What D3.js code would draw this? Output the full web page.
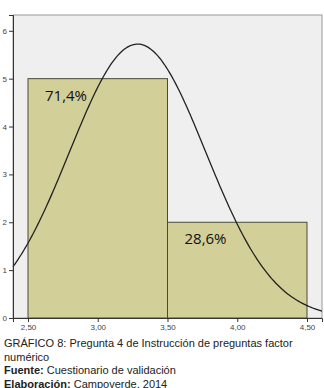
<!DOCTYPE html>
<html>
<head>
<meta charset="utf-8">
<script src="https://cdn.jsdelivr.net/npm/d3@7"></script>
<style>
  body { margin: 0; background: #fff; }
  .cap { font-family: "Liberation Sans", Arial, sans-serif; font-size: 11px; fill: #222; }
</style>
</head>
<body>
<svg id="chart" width="324" height="388"></svg>
<script>
// histogram bins and counts
const binStarts = [2.5, 3.5];
const binEnds = [3.5, 4.5];
const counts = [5, 2];
const pctLabels = ["71,4%", "28,6%"];
const xTicks = [2.5, 3.0, 3.5, 4.0, 4.5];
const yTicks = [0, 1, 2, 3, 4, 5, 6];
// normal curve parameters (from the responses)
const curveMean = 3.2857;
const curveSd = 0.488;
const curveN = 7;
const captionLines = [
  ["", "GRÁFICO 8: Pregunta 4 de Instrucción de preguntas factor"],
  ["", "numérico"],
  ["Fuente:", " Cuestionario de validación"],
  ["Elaboración:", " Campoverde, 2014"],
];

const svg = d3.select("#chart");
const plotL = 13, plotR = 322, plotT = 15, plotB = 318;

const x = d3.scaleLinear().domain([2.3925, 4.6075]).range([plotL, plotR]);
const y = d3.scaleLinear().domain([0, 6.33]).range([plotB, plotT]);

svg.append("rect")
  .attr("x", plotL).attr("y", plotT)
  .attr("width", plotR - plotL).attr("height", plotB - plotT)
  .attr("fill", "#efeff0")
  .attr("stroke", "#9a9a9a")
  .attr("stroke-width", 1);

svg.selectAll("rect.bar")
  .data(counts)
  .join("rect")
  .attr("class", "bar")
  .attr("x", (d, i) => x(binStarts[i]))
  .attr("y", (d) => y(d))
  .attr("width", (d, i) => x(binEnds[i]) - x(binStarts[i]))
  .attr("height", (d) => plotB - y(d))
  .attr("fill", "#d3cf98")
  .attr("stroke", "#4a4a3a")
  .attr("stroke-width", 1);

// normal curve
const pts = d3.range(0, 201).map((k) => {
  const xv = 2.3925 + (4.6075 - 2.3925) * k / 200;
  const z = (xv - curveMean) / curveSd;
  return [xv, curveN / (curveSd * Math.sqrt(2 * Math.PI)) * Math.exp(-0.5 * z * z)];
});
svg.append("path")
  .datum(pts)
  .attr("d", d3.line().x((d) => x(d[0])).y((d) => y(d[1])))
  .attr("fill", "none")
  .attr("stroke", "#222")
  .attr("stroke-width", 1.3);

svg.selectAll("text.pct")
  .data(pctLabels)
  .join("text")
  .attr("class", "pct")
  .attr("x", (d, i) => x(binStarts[i]) + 17)
  .attr("y", (d, i) => y(counts[i]) + 22)
  .attr("font-family", "'Open Sans', 'Liberation Sans', sans-serif")
  .attr("font-size", 15)
  .attr("fill", "#111")
  .text((d) => d);

// axes
const yAxis = svg.append("g")
  .attr("transform", `translate(${plotL},0)`)
  .call(d3.axisLeft(y).tickValues(yTicks).tickSize(4).tickPadding(2).tickFormat(d3.format("d")));
const xAxis = svg.append("g")
  .attr("transform", `translate(0,${plotB})`)
  .call(d3.axisBottom(x).tickValues(xTicks).tickSize(4).tickPadding(2)
    .tickFormat((d) => d3.format(".2f")(d).replace(".", ",")));
[yAxis, xAxis].forEach((g) => {
  g.select(".domain").attr("stroke", "#333");
  g.selectAll(".tick line").attr("stroke", "#333");
  g.selectAll("text").attr("font-family", "'Liberation Sans', Arial, sans-serif")
    .attr("font-size", 8).attr("fill", "#444");
});

// caption
svg.selectAll("text.cap")
  .data(captionLines)
  .join("text")
  .attr("class", "cap")
  .attr("x", 4)
  .attr("y", (d, i) => 347 + i * 13.5)
  .each(function (d) {
    const t = d3.select(this);
    if (d[0]) t.append("tspan").attr("font-weight", "bold").text(d[0]);
    t.append("tspan").text(d[1]);
  });
</script>
</body>
</html>
